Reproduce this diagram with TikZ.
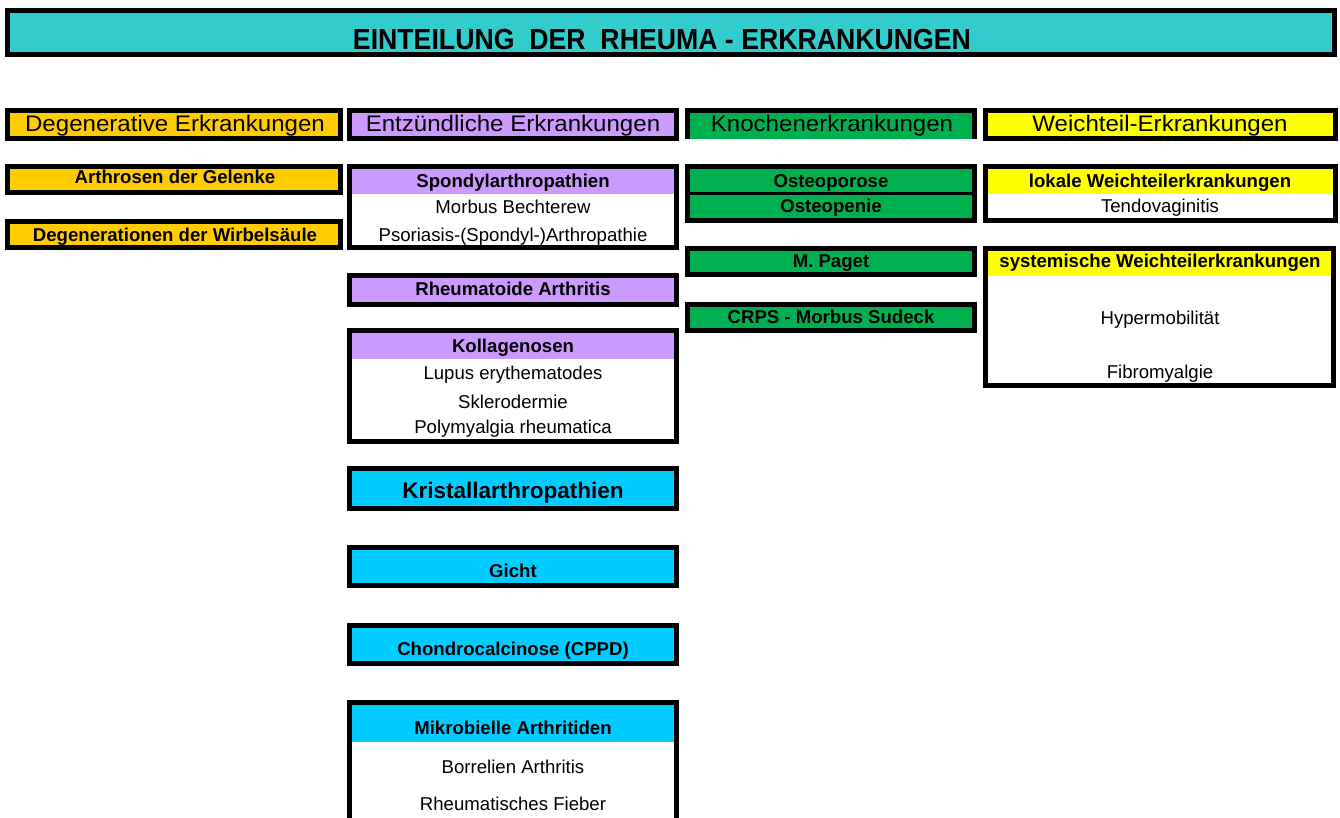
\documentclass[tikz,border=0pt]{standalone}
\usepackage{fontspec}
\setmainfont{Liberation Sans}
\usepackage{tikz}
\usetikzlibrary{positioning}

\definecolor{titlecol}{HTML}{33CCCC}
\definecolor{degcol}{HTML}{FFCC00}
\definecolor{entcol}{HTML}{CC99FF}
\definecolor{knocol}{HTML}{00B050}
\definecolor{weicol}{HTML}{FFFF00}
\definecolor{kricol}{HTML}{00CCFF}

\newcommand{\wideText}[1]{\scalebox{1.07}[1]{#1}}
\newcommand{\narrowText}[1]{\scalebox{0.92}[1]{#1}}

\begin{document}
\begin{tikzpicture}[x=1pt, y=-1pt]
	\tikzstyle{Frame} = [draw=black, line width=5pt]
	\tikzstyle{Title} = [anchor=base, inner sep=0pt, font=\fontsize{29}{32}\selectfont\bfseries]
	\tikzstyle{Head}  = [anchor=base, inner sep=0pt, font=\fontsize{22.5}{26}\selectfont]
	\tikzstyle{Big}   = [anchor=base, inner sep=0pt, font=\fontsize{22.5}{26}\selectfont\bfseries]
	\tikzstyle{Sub}   = [anchor=base, inner sep=0pt, font=\fontsize{18.6}{22}\selectfont\bfseries]
	\tikzstyle{Item}  = [anchor=base, inner sep=0pt, font=\fontsize{18.6}{22}\selectfont]

	\useasboundingbox (0,0) rectangle (1340,817);

	% Titel
	\draw[Frame, fill=titlecol] (7.5,10.5) rectangle (1334.5,54.5);
	\node (title) at (662,49) [Title] {\narrowText{EINTEILUNG\ \ DER\ \ RHEUMA - ERKRANKUNGEN}};

	% Spaltenkoepfe
	\draw[Frame, fill=degcol] (7.5,110.5) rectangle (340.5,138.5);
	\draw[Frame, fill=entcol] (349.5,110.5) rectangle (676.5,138.5);
	\fill[knocol] (685,108) rectangle (977,139);
	\draw[Frame] (687.5,139) -- (687.5,110.5) -- (974.5,110.5) -- (974.5,139);
	\draw[Frame, fill=weicol] (985.5,110.5) rectangle (1335.5,138.5);
	\node (deg) at (175,131) [Head] {\wideText{Degenerative Erkrankungen}};
	\node (ent) at (513,131) [Head] {\wideText{Entz\"undliche Erkrankungen}};
	\node (kno) at (832,131) [Head] {\wideText{Knochenerkrankungen}};
	\node (wei) at (1160,131) [Head] {\wideText{Weichteil-Erkrankungen}};

	% Degenerative
	\draw[Frame, fill=degcol] (7.5,166.5) rectangle (340.5,192.5);
	\draw[Frame, fill=degcol] (7.5,221.5) rectangle (340.5,247.5);
	\node (arthrosen) at (175,183) [Sub] {Arthrosen der Gelenke};
	\node (wirbel) at (175,241) [Sub] {Degenerationen der Wirbels\"aule};

	% Entzuendliche
	\draw[Frame, fill=white] (349.5,166.5) rectangle (676.5,247.5);
	\fill[entcol] (350,169) rectangle (676,194);
	\draw[Frame] (349.5,166.5) rectangle (676.5,247.5);
	\node (spondyl) at (513,187) [Sub] {Spondylarthropathien};
	\node (bechterew) at (513,213) [Item] {Morbus Bechterew};
	\node (psoriasis) at (513,241) [Item] {Psoriasis-(Spondyl-)Arthropathie};

	\draw[Frame, fill=entcol] (349.5,275.5) rectangle (676.5,304.5);
	\node (rheumatoide) at (513,295) [Sub] {Rheumatoide Arthritis};

	\draw[Frame, fill=white] (349.5,330.5) rectangle (676.5,441.5);
	\fill[entcol] (350,333) rectangle (676,359);
	\draw[Frame] (349.5,330.5) rectangle (676.5,441.5);
	\node (kollagen) at (513,352) [Sub] {Kollagenosen};
	\node (lupus) at (513,379) [Item] {Lupus erythematodes};
	\node (sklero) at (513,408) [Item] {Sklerodermie};
	\node (polymy) at (513,433) [Item] {Polymyalgia rheumatica};

	\draw[Frame, fill=kricol] (349.5,468.5) rectangle (676.5,508.5);
	\node (kristall) at (513,498) [Big] {Kristallarthropathien};
	\draw[Frame, fill=kricol] (349.5,547.5) rectangle (676.5,585.5);
	\node (gicht) at (513,577) [Sub] {Gicht};
	\draw[Frame, fill=kricol] (349.5,625.5) rectangle (676.5,663.5);
	\node (chondro) at (513,655) [Sub] {Chondrocalcinose (CPPD)};

	\draw[Frame, fill=white] (349.5,702.5) rectangle (676.5,840);
	\fill[kricol] (350,705) rectangle (676,742);
	\draw[Frame] (349.5,702.5) rectangle (676.5,840);
	\node (mikro) at (513,734) [Sub] {Mikrobielle Arthritiden};
	\node (borrelien) at (513,773) [Item] {Borrelien Arthritis};
	\node (fieber) at (513,810) [Item] {Rheumatisches Fieber};

	% Knochen
	\draw[Frame, fill=knocol] (687.5,166.5) rectangle (974.5,220.5);
	\draw[line width=3pt] (687.5,193.5) -- (974.5,193.5);
	\node (porose) at (831,187) [Sub] {Osteoporose};
	\node (penie) at (831,212) [Sub] {Osteopenie};
	\draw[Frame, fill=knocol] (687.5,248.5) rectangle (974.5,274.5);
	\node (paget) at (831,267) [Sub] {M. Paget};
	\draw[Frame, fill=knocol] (687.5,304.5) rectangle (974.5,330.5);
	\node (crps) at (831,323) [Sub] {CRPS - Morbus Sudeck};

	% Weichteil
	\draw[Frame, fill=white] (985.5,166.5) rectangle (1335.5,220.5);
	\fill[weicol] (986,169) rectangle (1335,194);
	\draw[Frame] (985.5,166.5) rectangle (1335.5,220.5);
	\node (lokal) at (1160,187) [Sub] {lokale Weichteilerkrankungen};
	\node (tendo) at (1160,212) [Item] {Tendovaginitis};

	\draw[Frame, fill=white] (985.5,248.5) rectangle (1333.5,385.5);
	\fill[weicol] (986,251) rectangle (1333,276);
	\draw[Frame] (985.5,248.5) rectangle (1333.5,385.5);
	\node (system) at (1160,267) [Sub] {systemische Weichteilerkrankungen};
	\node (hyper) at (1160,324) [Item] {Hypermobilit\"at};
	\node (fibro) at (1160,378) [Item] {Fibromyalgie};
\end{tikzpicture}
\end{document}
